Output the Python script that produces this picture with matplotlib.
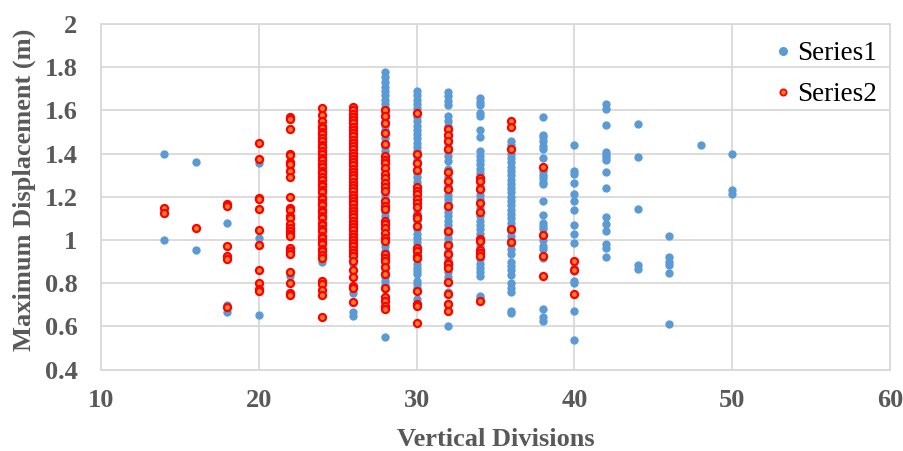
import matplotlib
matplotlib.use("Agg")
import matplotlib.pyplot as plt
from matplotlib.lines import Line2D

# ---------------- Data ----------------
# Series1 (blue) by vertical divisions
s1_14 = [1.40, 1.00]
s1_16 = [1.36, 0.955]
s1_18 = [1.08, 0.70, 0.666]
s1_20 = [1.357, 1.011, 0.652]
s1_22 = [1.337, 0.834]
s1_24 = [1.55, 1.52, 1.45, 1.30, 1.15, 1.00, 0.90]
s1_26 = [1.58, 1.50, 1.40, 1.30, 1.20, 1.10, 1.00, 0.93, 0.888, 0.86, 0.755, 0.665, 0.649]
s1_28 = [1.78, 1.755, 1.73, 1.71, 1.69, 1.67, 1.65, 1.63, 1.61, 1.59, 1.57, 1.55, 1.53,
         1.51, 1.49, 1.47, 1.45, 1.43, 1.41, 1.39, 1.37, 1.35, 1.33, 1.31, 1.29, 1.27,
         1.25, 1.23, 1.21, 1.19, 1.17, 1.15, 1.13, 1.11, 1.09, 1.07, 1.05, 1.03, 1.01,
         0.99, 0.97, 0.95, 0.93, 0.91, 0.89, 0.87, 0.85, 0.83, 0.81, 0.79, 0.775, 0.552]
s1_30 = [1.688, 1.67, 1.65, 1.63, 1.61, 1.59, 1.57, 1.55, 1.53, 1.51, 1.49, 1.47, 1.45,
         1.43, 1.41, 1.39, 1.37, 1.35, 1.33, 1.31, 1.29, 1.27, 1.25, 1.23, 1.21, 1.19,
         1.17, 1.15, 1.13, 1.11, 1.09, 1.07, 1.05, 1.03, 1.01, 0.99, 0.97, 0.95, 0.93,
         0.91, 0.89, 0.87, 0.855, 0.842, 0.81, 0.795, 0.78, 0.726, 0.71]
s1_32 = [1.685, 1.665, 1.645, 1.626, 1.572, 1.55, 1.53, 1.51, 1.49, 1.47, 1.45, 1.43,
         1.41, 1.39, 1.365, 1.33, 1.31, 1.29, 1.27, 1.25, 1.23, 1.21, 1.19, 1.17, 1.15,
         1.13, 1.11, 1.09, 1.07, 1.05, 1.03, 1.01, 0.99, 0.97, 0.95, 0.93, 0.91, 0.89,
         0.87, 0.85, 0.83, 0.81, 0.80, 0.757, 0.71, 0.603]
s1_34 = [1.657, 1.64, 1.626, 1.59, 1.572, 1.51, 1.475, 1.41, 1.39, 1.37, 1.35, 1.33,
         1.31, 1.29, 1.27, 1.25, 1.23, 1.21, 1.19, 1.17, 1.15, 1.13, 1.11, 1.09, 1.07,
         1.05, 1.03, 1.01, 0.99, 0.97, 0.95, 0.93, 0.91, 0.89, 0.87, 0.85, 0.835, 0.742, 0.73]
s1_36 = [1.457, 1.44, 1.42, 1.40, 1.38, 1.36, 1.34, 1.32, 1.30, 1.28, 1.26, 1.24, 1.22,
         1.20, 1.18, 1.16, 1.14, 1.12, 1.10, 1.08, 1.06, 1.04, 1.02, 1.00, 0.98, 0.96,
         0.934, 0.90, 0.88, 0.86, 0.84, 0.80, 0.78, 0.757, 0.672, 0.66]
s1_38 = [1.568, 1.488, 1.475, 1.457, 1.435, 1.423, 1.38, 1.318, 1.30, 1.285, 1.27, 1.257,
         1.18, 1.118, 1.08, 1.065, 1.05, 1.018, 1.00, 0.972, 0.957, 0.915, 0.68, 0.642, 0.626]
s1_40 = [1.438, 1.318, 1.305, 1.265, 1.211, 1.18, 1.137, 1.069, 1.026, 0.988, 0.872,
         0.855, 0.81, 0.80, 0.672, 0.537]
s1_42 = [1.631, 1.605, 1.531, 1.408, 1.395, 1.385, 1.369, 1.315, 1.243, 1.105, 1.072,
         1.043, 0.98, 0.965, 0.92]
s1_44 = [1.535, 1.382, 1.143, 0.882, 0.866]
s1_46 = [1.018, 0.92, 0.90, 0.885, 0.849, 0.611]
s1_48 = [1.442]
s1_50 = [1.397, 1.231, 1.211]

# Series2 (red) by vertical divisions
s2_14 = [1.149, 1.123]
s2_16 = [1.057]
s2_18 = [1.166, 1.158, 0.974, 0.928, 0.912, 0.692]
s2_20 = [1.451, 1.375, 1.195, 1.188, 1.143, 1.046, 0.975, 0.86, 0.80, 0.772, 0.766]
s2_22 = [1.568, 1.56, 1.515, 1.40, 1.395, 1.362, 1.354, 1.318, 1.291, 1.198, 1.149,
         1.138, 1.109, 1.10, 1.072, 1.057, 1.042, 1.026, 1.018, 0.965, 0.949, 0.937,
         0.854, 0.80, 0.755, 0.746]
s2_24 = [1.61, 1.58, 1.55, 1.53, 1.52, 1.50, 1.49, 1.47, 1.46, 1.44, 1.43, 1.41, 1.40,
         1.38, 1.37, 1.35, 1.34, 1.32, 1.31, 1.29, 1.28, 1.26, 1.25, 1.23, 1.22, 1.20,
         1.19, 1.17, 1.16, 1.14, 1.13, 1.11, 1.10, 1.08, 1.07, 1.05, 1.04, 1.02, 1.01,
         0.99, 0.98, 0.96, 0.95, 0.93, 0.915, 0.81, 0.795, 0.77, 0.745, 0.645]
s2_26 = [1.615, 1.60, 1.585, 1.57, 1.555, 1.54, 1.525, 1.51, 1.495, 1.48, 1.465, 1.45,
         1.435, 1.42, 1.405, 1.39, 1.375, 1.36, 1.345, 1.33, 1.315, 1.30, 1.285, 1.27,
         1.255, 1.24, 1.225, 1.21, 1.195, 1.18, 1.165, 1.15, 1.135, 1.12, 1.105, 1.09,
         1.075, 1.06, 1.045, 1.03, 1.015, 1.00, 0.985, 0.97, 0.955, 0.94, 0.925, 0.905,
         0.86, 0.83, 0.785, 0.78, 0.715]
s2_28 = [1.603, 1.572, 1.54, 1.495, 1.445, 1.39, 1.372, 1.357, 1.334, 1.306, 1.288,
         1.265, 1.245, 1.226, 1.18, 1.157, 1.142, 1.088, 1.072, 1.057, 1.034, 1.01,
         0.995, 0.934, 0.918, 0.903, 0.875, 0.842, 0.78, 0.734, 0.718, 0.695, 0.68]
s2_30 = [1.588, 1.40, 1.357, 1.326, 1.245, 1.228, 1.212, 1.188, 1.172, 1.152, 1.11,
         1.10, 1.065, 0.962, 0.95, 0.926, 0.915, 0.765, 0.706, 0.695, 0.618]
s2_32 = [1.515, 1.488, 1.46, 1.423, 1.314, 1.272, 1.234, 1.157, 1.042, 0.977, 0.937,
         0.895, 0.887, 0.872, 0.806, 0.752, 0.706, 0.672]
s2_34 = [1.285, 1.272, 1.237, 1.172, 1.131, 1.003, 0.995, 0.952, 0.942, 0.926, 0.718]
s2_36 = [1.549, 1.522, 1.422, 1.052, 0.992]
s2_38 = [1.337, 1.025, 0.928, 0.832]
s2_40 = [0.903, 0.86, 0.749]

series1 = {14: s1_14, 16: s1_16, 18: s1_18, 20: s1_20, 22: s1_22, 24: s1_24, 26: s1_26,
           28: s1_28, 30: s1_30, 32: s1_32, 34: s1_34, 36: s1_36, 38: s1_38, 40: s1_40,
           42: s1_42, 44: s1_44, 46: s1_46, 48: s1_48, 50: s1_50}
series2 = {14: s2_14, 16: s2_16, 18: s2_18, 20: s2_20, 22: s2_22, 24: s2_24, 26: s2_26,
           28: s2_28, 30: s2_30, 32: s2_32, 34: s2_34, 36: s2_36, 38: s2_38, 40: s2_40}

x_ticks = [10, 20, 30, 40, 50, 60]
y_ticks = [0.4, 0.6, 0.8, 1.0, 1.2, 1.4, 1.6, 1.8, 2.0]
y_tick_labels = ["0.4", "0.6", "0.8", "1", "1.2", "1.4", "1.6", "1.8", "2"]

def flatten(d):
    xs, ys = [], []
    for k, vals in d.items():
        xs += [k] * len(vals)
        ys += vals
    return xs, ys

x1, y1 = flatten(series1)
x2, y2 = flatten(series2)

# ---------------- Plot ----------------
plt.rcParams['font.family'] = ['Liberation Serif', 'DejaVu Serif']
fig = plt.figure(figsize=(9.04, 4.51), dpi=100)
ax = fig.add_axes([101 / 904, 1 - 369.6 / 451, (890 - 101) / 904, (369.6 - 24) / 451])

blue = '#5B9BD5'
orange = '#F0822E'
ax.scatter(x1, y1, s=36, color=blue, linewidths=0, zorder=3, label='Series1')
ax.scatter(x2, y2, s=26, facecolor=orange, edgecolor='#FF0000', linewidths=1.6,
           zorder=4, label='Series2')

ax.set_xlim(10, 60)
ax.set_ylim(0.4, 2.0)
ax.set_xticks(x_ticks)
ax.set_yticks(y_ticks)
ax.set_yticklabels(y_tick_labels)
grid_c = '#D9D9D9'
ax.grid(True, color=grid_c, linewidth=1.3, zorder=0)
ax.set_axisbelow(True)
for sp in ax.spines.values():
    sp.set_color(grid_c)
    sp.set_linewidth(1.3)
txt_c = '#595959'
ax.tick_params(length=0, labelsize=19, colors=txt_c)
ax.tick_params(axis='y', pad=17)
ax.tick_params(axis='x', pad=14)
for lab in ax.get_xticklabels() + ax.get_yticklabels():
    lab.set_fontweight('bold')

ax.set_xlabel('Vertical Divisions', fontsize=19, fontweight='bold', color=txt_c, va='center')
ax.xaxis.set_label_coords(0.5, -(440 - 369.6) / 345.6)
ax.set_ylabel('Maximum Displacement (m)', fontsize=19, fontweight='bold', color=txt_c,
              va='center')
ax.yaxis.set_label_coords((24 - 101) / 789, 0.52)

handles = [Line2D([], [], linestyle='none', marker='o', markersize=5.5, markerfacecolor=blue,
                  markeredgecolor=blue),
           Line2D([], [], linestyle='none', marker='o', markersize=4.5, markerfacecolor=orange,
                  markeredgecolor='#FF0000', markeredgewidth=1.3)]
ax.legend(handles, ['Series1', 'Series2'], loc='upper right', bbox_to_anchor=(1.008, 1.005),
          frameon=False, fontsize=19.5, handletextpad=0.1, handlelength=0.9, labelspacing=0.6,
          borderaxespad=0.3)

fig.savefig('out.png', dpi=100)
